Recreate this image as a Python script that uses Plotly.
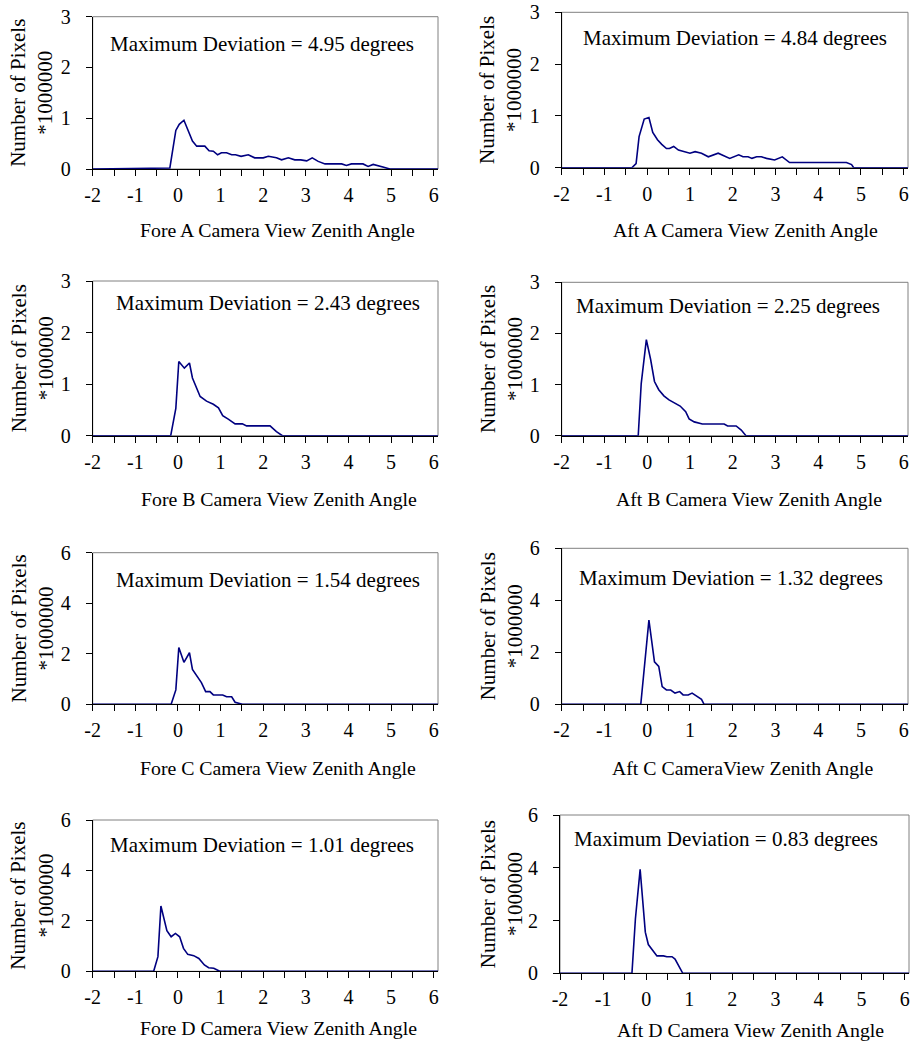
import plotly.graph_objects as go

# ---------------- data ----------------
FORE_A_X = [-2.0, -0.19, -0.05, 0.03, 0.14, 0.34, 0.44, 0.63, 0.73, 0.83, 0.93, 1.02, 1.14, 1.26, 1.35, 1.48, 1.65, 1.80, 2.00, 2.12, 2.31, 2.43, 2.59, 2.74, 2.88, 3.02, 3.15, 3.29, 3.45, 3.64, 3.84, 3.95, 4.07, 4.34, 4.46, 4.58, 4.70, 4.85, 4.97, 6.1]
FORE_A_Y = [0, 0.02, 0.76, 0.88, 0.96, 0.55, 0.45, 0.45, 0.36, 0.35, 0.28, 0.32, 0.32, 0.28, 0.28, 0.25, 0.28, 0.22, 0.22, 0.25, 0.22, 0.18, 0.22, 0.18, 0.18, 0.16, 0.22, 0.15, 0.10, 0.10, 0.10, 0.07, 0.10, 0.10, 0.05, 0.09, 0.07, 0.03, 0, 0]

AFT_A_X = [-2.0, -0.36, -0.26, -0.19, -0.07, 0.04, 0.13, 0.24, 0.34, 0.45, 0.52, 0.62, 0.73, 0.88, 1.00, 1.12, 1.27, 1.43, 1.66, 1.93, 2.14, 2.24, 2.36, 2.45, 2.56, 2.67, 2.79, 2.98, 3.16, 3.33, 3.65, 4.66, 4.78, 4.83, 6.1]
AFT_A_Y = [0, 0, 0.08, 0.60, 0.94, 0.97, 0.68, 0.54, 0.45, 0.37, 0.37, 0.41, 0.34, 0.31, 0.28, 0.31, 0.28, 0.21, 0.28, 0.18, 0.25, 0.21, 0.21, 0.18, 0.21, 0.21, 0.18, 0.15, 0.21, 0.10, 0.10, 0.10, 0.06, 0, 0]

FORE_B_X = [-2.0, -0.17, -0.05, 0.02, 0.15, 0.27, 0.34, 0.52, 0.67, 0.83, 0.95, 1.05, 1.18, 1.34, 1.51, 1.61, 2.16, 2.31, 2.45, 6.1]
FORE_B_Y = [0, 0, 0.53, 1.44, 1.31, 1.41, 1.12, 0.76, 0.67, 0.61, 0.54, 0.39, 0.32, 0.23, 0.23, 0.19, 0.19, 0.08, 0, 0]

AFT_B_X = [-2.0, -0.21, -0.14, -0.02, 0.08, 0.17, 0.27, 0.39, 0.51, 0.63, 0.77, 0.90, 0.98, 1.10, 1.29, 1.80, 1.88, 2.08, 2.20, 2.31, 6.1]
AFT_B_Y = [0, 0, 1.02, 1.88, 1.49, 1.06, 0.90, 0.78, 0.70, 0.64, 0.58, 0.47, 0.33, 0.27, 0.23, 0.23, 0.19, 0.19, 0.11, 0, 0]

FORE_C_X = [-2.0, -0.16, -0.05, 0.02, 0.14, 0.27, 0.34, 0.45, 0.55, 0.65, 0.75, 0.83, 1.05, 1.14, 1.26, 1.34, 1.51, 6.1]
FORE_C_Y = [0, 0, 0.57, 2.25, 1.66, 2.04, 1.38, 1.09, 0.86, 0.50, 0.50, 0.37, 0.37, 0.30, 0.30, 0.08, 0, 0]

AFT_C_X = [-2.0, -0.15, 0.04, 0.17, 0.27, 0.35, 0.45, 0.55, 0.65, 0.76, 0.84, 0.96, 1.05, 1.15, 1.27, 1.33, 6.1]
AFT_C_Y = [0, 0, 3.24, 1.63, 1.46, 0.68, 0.55, 0.55, 0.43, 0.49, 0.36, 0.36, 0.43, 0.32, 0.19, 0, 0]

FORE_D_X = [-2.0, -0.57, -0.47, -0.40, -0.26, -0.16, -0.06, 0.04, 0.13, 0.23, 0.37, 0.49, 0.62, 0.72, 0.84, 0.98, 6.1]
FORE_D_Y = [0, 0, 0.58, 2.59, 1.61, 1.37, 1.50, 1.37, 0.91, 0.67, 0.62, 0.51, 0.25, 0.14, 0.12, 0, 0]

AFT_D_X = [-2.0, -0.33, -0.25, -0.14, -0.02, 0.05, 0.25, 0.40, 0.48, 0.60, 0.67, 0.85, 6.1]
AFT_D_Y = [0, 0, 2.06, 3.94, 1.56, 1.09, 0.66, 0.66, 0.63, 0.63, 0.54, 0, 0]

X_TITLES = ["Fore A Camera View Zenith Angle", "Aft A Camera View Zenith Angle",
            "Fore B Camera View Zenith Angle", "Aft B Camera View Zenith Angle",
            "Fore C Camera View Zenith Angle", "Aft C CameraView Zenith Angle",
            "Fore D Camera View Zenith Angle", "Aft D Camera View Zenith Angle"]
MAX_DEV = ["4.95", "4.84", "2.43", "2.25", "1.54", "1.32", "1.01", "0.83"]
X_TICK_VALS = [-2, -1, 0, 1, 2, 3, 4, 5, 6]
X_TICK_TEXT = ["-2", "-1", "0", "1", "2", "3", "4", "5", "6"]
Y_MAX = [3, 3, 3, 3, 6, 6, 6, 6]
Y_DTICK = [1, 1, 1, 1, 2, 2, 2, 2]
X_RANGE = [-2, 6.1]
Y_TITLE = "Number of Pixels<br>*1000000"

SERIES = [(FORE_A_X, FORE_A_Y), (AFT_A_X, AFT_A_Y), (FORE_B_X, FORE_B_Y), (AFT_B_X, AFT_B_Y),
          (FORE_C_X, FORE_C_Y), (AFT_C_X, AFT_C_Y), (FORE_D_X, FORE_D_Y), (AFT_D_X, AFT_D_Y)]

# ---------------- layout geometry (pixels in the 914x1043 window) ----------------
W, H = 914, 1043
# plot area boxes: left, right, top, bottom
BOXES = [(92.7, 438, 16.7, 169), (561.7, 908, 12.3, 167.7),
         (92.7, 438, 281, 435.7), (561.7, 908, 282.3, 435.7),
         (92.7, 438, 552.7, 704.3), (561.7, 908, 548.3, 704.3),
         (92.7, 438, 820, 971.3), (560, 909, 815, 973.3)]
TEXT_POS = [(262, 44), (735, 38), (268, 303), (728, 306),
            (268, 580), (731, 578), (262, 845), (726, 839)]
XT_POS = [(277, 230), (745, 230), (279, 499), (749, 499),
          (278, 768), (743, 768), (278, 1028), (750, 1030)]


def px(x):
    return x / W


def py(y):
    return 1 - y / H


FONT = "Liberation Serif, Times New Roman, serif"
LINE_COLOR = "#000080"

fig = go.Figure()
annotations = []
shapes = []

for i, ((xs, ys), box) in enumerate(zip(SERIES, BOXES)):
    n = "" if i == 0 else str(i + 1)
    l, r, t, b = box
    xd = [px(l), min(px(r), 1)]
    yd = [py(b), py(t)]
    fig.add_trace(go.Scatter(x=xs, y=ys, mode="lines", xaxis="x" + n, yaxis="y" + n,
                             line=dict(color=LINE_COLOR, width=1.6), cliponaxis=False,
                             showlegend=False, hoverinfo="skip"))
    fig.layout["xaxis" + n] = dict(
        domain=xd, range=X_RANGE, anchor="y" + n, automargin=False,
        tickmode="array", tickvals=X_TICK_VALS, ticktext=X_TICK_TEXT,
        ticks="outside", ticklen=6, tickcolor="black", tickwidth=1,
        minor=dict(dtick=0.5, tick0=-2, ticks="outside", ticklen=6, tickcolor="black", showgrid=False),
        showline=True, linecolor="black", linewidth=1, showgrid=False, zeroline=False,
        ticklabelstandoff=2,
        tickfont=dict(family=FONT, size=20, color="black"))
    fig.layout["yaxis" + n] = dict(
        domain=yd, range=[0, Y_MAX[i]], anchor="x" + n, automargin=False,
        tick0=0, dtick=Y_DTICK[i],
        ticks="outside", ticklen=6, tickcolor="black", tickwidth=1,
        showline=True, linecolor="black", linewidth=1, showgrid=False, zeroline=False,
        ticklabelstandoff=11,
        tickfont=dict(family=FONT, size=20, color="black"))
    # gray plot-area frame
    shapes.append(dict(type="rect", xref="x" + n + " domain", yref="y" + n + " domain",
                       x0=0, x1=1, y0=0, y1=1, line=dict(color="#808080", width=1), layer="below"))
    tx, ty = TEXT_POS[i]
    annotations.append(dict(text="Maximum Deviation = " + MAX_DEV[i] + " degrees",
                            xref="paper", yref="paper", x=px(tx), y=py(ty),
                            xanchor="center", yanchor="middle", showarrow=False,
                            font=dict(family=FONT, size=21, color="black")))
    xx, xy = XT_POS[i]
    annotations.append(dict(text=X_TITLES[i], xref="paper", yref="paper", x=px(xx), y=py(xy),
                            xanchor="center", yanchor="middle", showarrow=False,
                            font=dict(family=FONT, size=19.8, color="black")))
    ycx = 32 if i % 2 == 0 else 501
    annotations.append(dict(text=Y_TITLE, xref="paper", yref="paper", x=px(ycx), y=py((t + b) / 2),
                            xanchor="center", yanchor="middle", showarrow=False, textangle=-90,
                            font=dict(family=FONT, size=21, color="black")))

fig.update_layout(width=W, height=H, margin=dict(l=0, r=0, t=0, b=0, autoexpand=False),
                  paper_bgcolor="white", plot_bgcolor="white",
                  annotations=annotations, shapes=shapes, showlegend=False)

# remove the default page margin so the figure fills the 914x1043 window exactly
fig.write_html("out.html", config={"displayModeBar": False},
               post_script="document.body.style.margin='0px';")
